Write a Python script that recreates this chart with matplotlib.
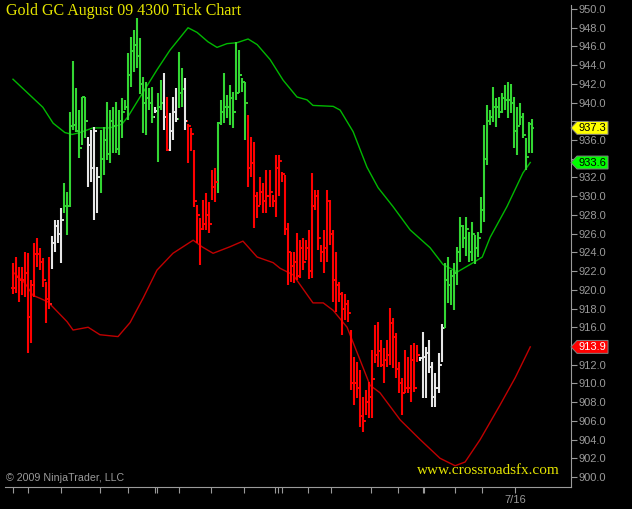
import matplotlib
matplotlib.use("Agg")
import matplotlib.pyplot as plt
from matplotlib.patches import Polygon
from matplotlib.transforms import blended_transform_factory

# tick bars: high, low, close, colour code (r = down, w = neutral, g = up)
highs = [922.9, 923.5, 922.4, 922.4, 924.0, 923.9, 921.1, 925.0, 925.5, 924.5,
         923.4, 920.8, 923.5, 925.7, 927.5, 927.5, 928.7, 931.4, 930.4, 939.0,
         944.4, 941.6, 939.2, 940.6, 940.6, 936.3, 937.1, 937.4, 933.1, 937.1,
         937.4, 940.1, 939.2, 939.5, 940.1, 939.2, 940.5, 940.3, 945.3, 947.0,
         947.8, 949.0, 946.9, 942.7, 942.2, 941.6, 941.7, 939.5, 941.0, 942.4,
         943.2, 940.6, 938.9, 940.6, 941.6, 945.4, 943.7, 942.6, 937.7, 937.3,
         934.9, 929.1, 927.7, 929.6, 930.3, 929.4, 932.8, 933.0, 937.9, 940.3,
         943.2, 940.8, 941.9, 941.1, 946.5, 945.6, 942.6, 942.2, 938.7, 936.3,
         935.8, 930.4, 932.0, 931.4, 932.8, 932.8, 930.1, 934.4, 934.4, 932.6,
         932.3, 927.1, 924.0, 924.0, 926.1, 925.3, 925.5, 925.3, 926.4, 932.5,
         930.7, 930.7, 924.8, 926.4, 930.7, 929.6, 926.4, 924.0, 920.8, 919.8,
         919.5, 918.9, 915.7, 912.8, 912.3, 911.4, 908.5, 909.3, 910.2, 913.6,
         916.2, 916.6, 914.6, 913.8, 914.6, 918.1, 917.0, 915.4, 912.3, 910.6,
         913.6, 912.8, 914.1, 914.3, 914.1, 912.8, 915.5, 913.9, 914.6, 912.3,
         911.1, 913.3, 916.3, 922.9, 923.5, 922.1, 922.9, 924.6, 927.8, 926.9,
         927.8, 926.2, 927.2, 925.9, 926.2, 929.9, 937.6, 939.7, 939.2, 941.7,
         940.5, 940.6, 941.0, 941.9, 942.2, 942.0, 940.6, 939.5, 940.0, 938.9,
         936.2, 937.9, 938.2]
lows = [919.5, 919.7, 918.7, 919.4, 919.2, 913.2, 914.3, 919.2, 922.4, 922.1,
        920.3, 916.5, 918.0, 922.2, 924.0, 925.0, 922.9, 928.2, 925.9, 928.9,
        937.1, 936.9, 934.1, 935.5, 936.2, 931.0, 931.5, 927.5, 928.2, 930.3,
        932.3, 933.9, 933.5, 934.6, 934.6, 934.4, 936.2, 939.2, 938.1, 941.7,
        943.3, 943.7, 940.9, 936.8, 936.5, 939.2, 937.8, 938.9, 933.7, 939.2,
        937.1, 934.8, 934.8, 936.0, 937.9, 939.4, 939.5, 937.1, 933.5, 934.8,
        928.9, 925.0, 922.6, 926.4, 926.4, 926.1, 929.6, 929.4, 930.3, 937.6,
        937.8, 938.4, 937.6, 937.3, 940.3, 941.0, 941.1, 936.0, 931.0, 932.1,
        926.6, 927.7, 929.1, 928.2, 928.2, 928.9, 928.9, 927.8, 930.0, 931.5,
        925.9, 920.5, 920.8, 920.7, 921.0, 921.3, 922.1, 923.2, 921.2, 921.3,
        928.5, 924.3, 923.0, 921.8, 923.0, 924.8, 918.7, 917.6, 918.7, 915.2,
        916.8, 916.6, 909.3, 907.7, 908.4, 905.3, 904.8, 906.6, 906.3, 906.3,
        912.2, 911.8, 911.8, 910.0, 911.8, 912.0, 911.6, 910.6, 909.0, 906.6,
        909.0, 909.0, 908.0, 909.1, 912.3, 912.4, 908.4, 908.4, 911.1, 907.5,
        907.5, 909.0, 912.3, 915.9, 918.6, 918.4, 917.8, 920.5, 923.0, 924.5,
        923.6, 923.0, 923.1, 922.8, 923.5, 926.1, 927.2, 933.3, 937.6, 937.9,
        937.4, 938.4, 938.9, 939.2, 938.4, 938.9, 935.1, 934.4, 937.6, 936.2,
        932.8, 934.6, 934.6]
closes = [920.2, 921.4, 921.0, 921.0, 921.8, 917.1, 920.5, 923.8, 923.8, 923.0,
          921.0, 919.0, 918.5, 925.0, 926.8, 926.0, 927.5, 929.0, 929.0, 937.5,
          937.6, 937.0, 935.2, 940.6, 938.0, 935.5, 933.0, 937.0, 932.0, 934.0,
          936.0, 934.5, 938.0, 937.5, 935.0, 938.0, 939.0, 939.5, 943.0, 945.5,
          946.2, 945.0, 942.0, 940.0, 940.5, 940.0, 938.5, 939.1, 939.5, 940.0,
          938.5, 934.9, 937.0, 939.0, 938.2, 941.0, 941.5, 938.0, 937.5, 936.6,
          929.5, 928.0, 926.5, 927.0, 928.0, 927.0, 931.0, 931.5, 937.8, 939.0,
          939.5, 939.5, 940.5, 939.0, 941.0, 943.0, 942.2, 940.0, 933.0, 933.5,
          930.0, 929.0, 930.5, 929.5, 930.0, 930.5, 929.5, 933.0, 933.8, 932.4,
          926.5, 924.0, 922.5, 923.0, 921.5, 924.5, 923.0, 924.5, 922.0, 929.0,
          930.0, 925.5, 924.0, 924.5, 929.5, 926.0, 921.0, 920.5, 919.5, 918.0,
          918.5, 917.5, 910.0, 910.0, 909.5, 906.5, 906.0, 908.0, 908.5, 910.5,
          913.0, 913.5, 912.0, 912.5, 913.0, 916.5, 915.0, 911.5, 910.0, 909.0,
          909.5, 909.5, 912.5, 909.5, 913.0, 912.7, 912.8, 913.2, 911.8, 908.5,
          909.5, 912.0, 915.9, 921.0, 920.5, 921.5, 921.8, 924.0, 926.8, 925.5,
          926.5, 924.0, 926.0, 924.5, 925.5, 928.5, 934.0, 938.0, 938.5, 939.5,
          939.5, 939.0, 940.5, 940.3, 940.3, 940.0, 937.0, 937.5, 938.5, 936.5,
          934.2, 937.7, 937.3]
bar_colors = list("rrrrrrrrrrrrrwwwwggggggggwwwwggggggggggggggggggwgg"
                  "wrwwwggwrrrrrrrrrrggggggggggrrrrrrrrrrrrrrrrrrrrrr"
                  "rrrrrrrrrrrrrrrrrrrrrrrrrrrrrrrrrrrwwwwwwwwgggggggg"
                  "gggggggggggggggggggggg")

# upper (green) and lower (red) moving averages, sampled along the bar index
upper_idx = [0, 9.9, 13.3, 17.2, 19.6, 22.2, 26.5, 32.1, 36.1, 38.1, 42.1, 43.1,
             47.7, 52.0, 58.0, 61.0, 64.6, 67.6, 70.9, 74.2, 77.9, 80.9, 85.2,
             89.5, 94.1, 97.4, 99.4, 106.1, 108.4, 112.7, 117.3, 121.0, 125.9,
             131.6, 138.2, 142.5, 147.2, 152.5, 155.5, 158.1, 163.7, 169.0, 171.4]
upper_val = [942.5, 939.5, 937.8, 936.8, 936.6, 936.8, 937.3, 937.3, 937.7, 938.5,
             940.6, 941.1, 943.5, 945.6, 948.0, 947.5, 946.5, 945.9, 946.3, 946.4,
             946.8, 946.2, 944.6, 942.4, 940.6, 940.3, 939.7, 939.6, 939.2, 936.9,
             933.1, 930.9, 928.9, 926.4, 924.5, 922.7, 921.9, 922.9, 923.5, 925.6,
             928.9, 932.5, 933.6]
lower_idx = [0, 4.0, 6.6, 8.9, 11.6, 17.9, 19.9, 24.9, 28.8, 34.8, 38.8, 43.1,
             47.7, 53.0, 59.7, 62.6, 66.3, 71.9, 76.2, 80.9, 86.2, 88.5, 92.8,
             99.4, 102.8, 106.1, 110.7, 115.0, 118.3, 121.6, 128.3, 134.9, 141.5,
             146.5, 149.8, 154.8, 161.4, 166.4, 171.4]
lower_val = [921.9, 920.7, 919.4, 919.1, 918.7, 916.6, 915.7, 916.0, 915.2, 915.0,
             916.5, 919.1, 922.1, 923.9, 925.3, 924.6, 923.9, 924.6, 925.2, 923.5,
             922.9, 922.3, 921.6, 918.6, 918.6, 917.8, 916.0, 912.5, 909.8, 909.0,
             906.1, 904.0, 902.0, 901.2, 901.6, 904.0, 907.7, 910.6, 913.9]

yticks = list(range(900, 951, 2))
xtick_pos = [0, 5.0, 15.9, 28.8, 38.1, 47.1, 47.7, 55.0, 65.6, 76.6, 86.8, 87.8,
             89.2, 97.8, 105.4, 118.7, 127.6, 135.9, 136.2, 146.5, 155.5, 166.4]
xtick_labels = [""] * 21 + ["7/16"]

tags = [(937.3, "#ffff00", "black"), (933.6, "#00ff00", "black"),
        (913.9, "#ff0000", "white")]
covered = [938, 934, 914]

cmap = {"r": "#ff0000", "w": "#e6e6e6", "g": "#33d633"}
grey = "#9a9a9a"

fig = plt.figure(figsize=(6.32, 5.09), dpi=100, facecolor="black")
ax = fig.add_axes([5 / 632, 1 - 487 / 509, 566 / 632, 482 / 509])
ax.set_facecolor("black")

n = len(highs)
xs = list(range(n))
cols = [cmap[c] for c in bar_colors[:n]]
opens = [closes[0]] + closes[:-1]

ax.plot(upper_idx, upper_val, color="#00b800", lw=1.0, zorder=2)
ax.plot(lower_idx, lower_val, color="#c00000", lw=1.0, zorder=2)

ax.vlines(xs, lows, highs, colors=cols, lw=1.5, zorder=3)
ax.hlines(opens, [x - 0.8 for x in xs], xs, colors=cols, lw=1.3, zorder=3)
ax.hlines(closes, xs, [x + 0.8 for x in xs], colors=cols, lw=1.3, zorder=3)

ax.set_xlim(-2.65, 184.9)
ax.set_ylim(898.93, 950.43)

for s in ["left", "top"]:
    ax.spines[s].set_visible(False)
for s in ["right", "bottom"]:
    ax.spines[s].set_color(grey)
    ax.spines[s].set_linewidth(0.8)

# labels hidden behind the price tags are left blank
ax.yaxis.tick_right()
ax.set_yticks(yticks)
ax.set_yticklabels(["" if v in covered else "%.1f" % v for v in yticks])
ax.tick_params(axis="y", colors=grey, labelcolor=grey, length=4.3, width=0.8,
               pad=1, labelsize=8)
ax.set_xticks(xtick_pos)
ax.set_xticklabels(xtick_labels)
ax.tick_params(axis="x", colors=grey, labelcolor=grey, length=4, width=0.8,
               pad=2, labelsize=8)
for lab in ax.get_xticklabels() + ax.get_yticklabels():
    lab.set_family("Liberation Sans")

tr = blended_transform_factory(ax.transAxes, ax.transData)
for price, fc, tc in tags:
    pts = [(1.0, price), (1.0106, price + 0.69), (1.0654, price + 0.69),
           (1.0654, price - 0.69), (1.0106, price - 0.69)]
    ax.add_patch(Polygon(pts, closed=True, transform=tr, facecolor=fc,
                         edgecolor="#808080", lw=0.7, clip_on=False, zorder=10))
    ax.text(1.038, price, "%.1f" % price, transform=tr, color=tc, fontsize=8,
            family="Liberation Sans", ha="center", va="center", zorder=11,
            clip_on=False)

fig.text(6 / 632, 1 - 11 / 509, "Gold GC August 09 4300 Tick Chart",
         color="#e6e600", fontsize=11.5, family="Liberation Serif",
         ha="left", va="center")
fig.text(6 / 632, 1 - 478 / 509, "\u00a9 2009 NinjaTrader, LLC", color=grey,
         fontsize=7.7, family="Liberation Sans", ha="left", va="center")
fig.text(488 / 632, 1 - 471 / 509, "www.crossroadsfx.com", color="#e6e600",
         fontsize=11, family="Liberation Serif", ha="center", va="center")

fig.savefig("out.png", dpi=100, facecolor="black")
